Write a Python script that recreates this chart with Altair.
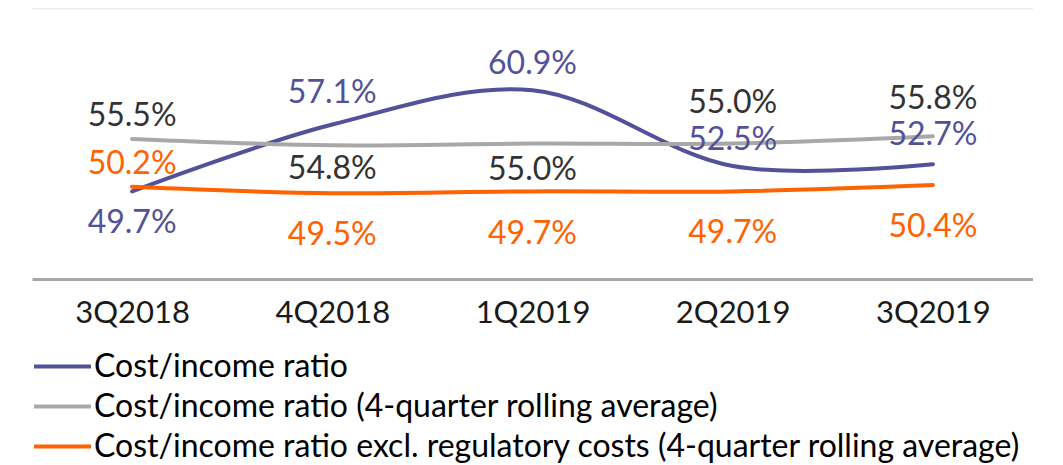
import altair as alt
import pandas as pd

quarters = ["3Q2018", "4Q2018", "1Q2019", "2Q2019", "3Q2019"]
series_names = [
    "Cost/income ratio",
    "Cost/income ratio (4-quarter rolling average)",
    "Cost/income ratio excl. regulatory costs (4-quarter rolling average)",
]
cost_income = [49.7, 57.1, 60.9, 52.5, 52.7]
rolling_avg = [55.5, 54.8, 55.0, 55.0, 55.8]
excl_reg = [50.2, 49.5, 49.7, 49.7, 50.4]

# label placement (pixels, negative = above the point)
label_dy = {
    series_names[0]: [32, -32, -26, -26, -29],
    series_names[1]: [-23, 24, 26, -41, -37],
    series_names[2]: [-23, 42, 43, 42, 42],
}

colors = ["#525199", "#A8A8A8", "#FF6200"]
label_colors = ["#525199", "#333333", "#FF6200"]
FONT = "Lato"
W, H = 1001, 271
Y0, Y1 = 40, 70
ppu = H / (Y1 - Y0)

rows = []
for name, vals in zip(series_names, [cost_income, rolling_avg, excl_reg]):
    for i, (q, v) in enumerate(zip(quarters, vals)):
        rows.append({
            "quarter": q, "series": name, "value": v, "order": i,
            "label": f"{v:.1f}%",
            "label_y": v - label_dy[name][i] / ppu,
        })
df = pd.DataFrame(rows)

xaxis = alt.Axis(labelAngle=0, labelFont=FONT, labelFontSize=31,
                 labelColor="#1a1a1a", labelPadding=19, ticks=False,
                 domainColor="#A6A6A6", domainWidth=3, grid=False)
xscale = alt.Scale(paddingInner=0, paddingOuter=0.5)
yscale = alt.Scale(domain=[Y0, Y1], nice=False, zero=False)
yaxis = alt.Axis(values=[70], labels=False, ticks=False, domain=False,
                 grid=True, gridColor="#EEEEEE", gridWidth=2)

color = alt.Color("series:N", sort=series_names,
                  scale=alt.Scale(domain=series_names, range=colors),
                  legend=alt.Legend(
                      title=None, orient="none", legendX=14, legendY=342,
                      direction="vertical", symbolType="M-2,0H2",
                      symbolSize=812, symbolStrokeWidth=4,
                      labelFont=FONT, labelFontSize=32, labelColor="#000000",
                      labelLimit=2000, labelOffset=15, rowPadding=7, padding=0))

lines = alt.Chart(df).mark_line(interpolate="catmull-rom", strokeWidth=4,
                                strokeCap="round").encode(
    x=alt.X("quarter:N", sort=quarters, title=None, scale=xscale, axis=xaxis),
    y=alt.Y("value:Q", scale=yscale, title=None, axis=yaxis),
    color=color,
    order="order:Q",
)

labels = alt.Chart(df).mark_text(font=FONT, fontSize=32, align="center",
                                 baseline="middle").encode(
    x=alt.X("quarter:N", sort=quarters, title=None, scale=xscale, axis=xaxis),
    y=alt.Y("label_y:Q", scale=yscale, title=None, axis=yaxis),
    text="label:N",
    color=alt.Color("series:N", sort=series_names,
                    scale=alt.Scale(domain=series_names, range=label_colors),
                    legend=None),
)

chart = alt.layer(lines, labels).resolve_scale(color="independent").properties(
    width=W, height=H, background="white",
    padding={"left": 24, "top": 0, "right": 0, "bottom": 0},
).configure_view(strokeWidth=0)

chart.save("out.html", embed_options={"renderer": "svg", "actions": False})
